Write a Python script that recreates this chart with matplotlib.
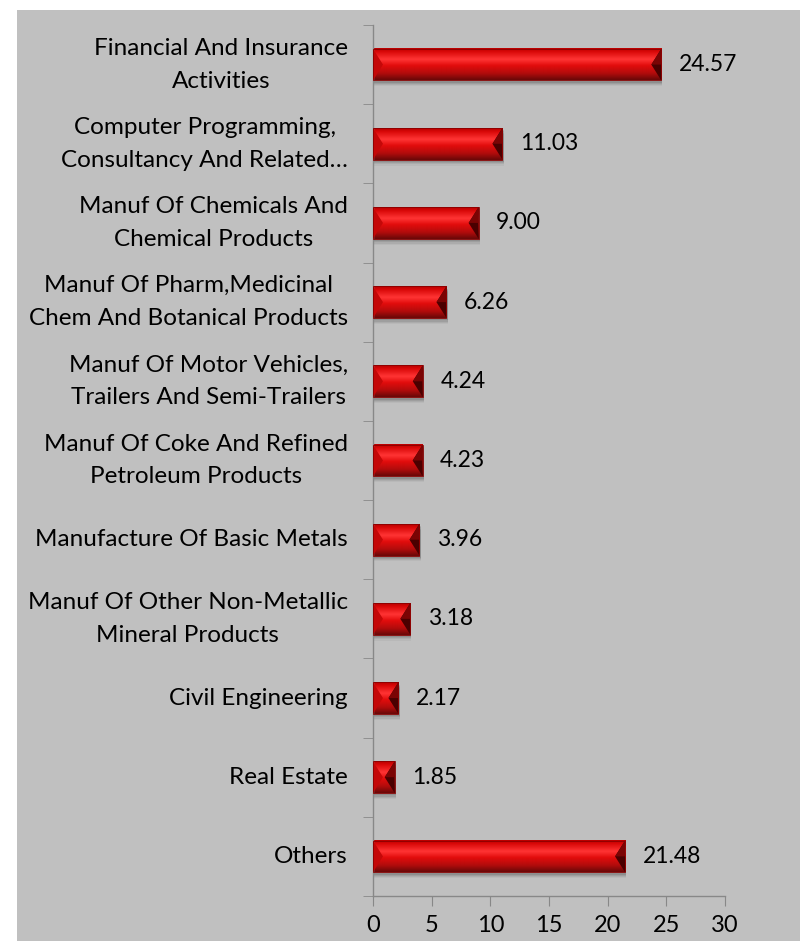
import matplotlib.pyplot as plt
import numpy as np
from matplotlib.patches import Polygon, Rectangle
from matplotlib.colors import LinearSegmentedColormap

plt.rcParams['font.family'] = ['Lato', 'DejaVu Sans']

sectors = [
    "Financial And Insurance\nActivities",
    "Computer Programming,\nConsultancy And Related\u2026",
    "Manuf Of Chemicals And\nChemical Products",
    "Manuf Of Pharm,Medicinal\nChem And Botanical Products",
    "Manuf Of Motor Vehicles,\nTrailers And Semi-Trailers",
    "Manuf Of Coke And Refined\nPetroleum Products",
    "Manufacture Of Basic Metals",
    "Manuf Of Other Non-Metallic\nMineral Products",
    "Civil Engineering",
    "Real Estate",
    "Others",
]
shares = [24.57, 11.03, 9.00, 6.26, 4.24, 4.23, 3.96, 3.18, 2.17, 1.85, 21.48]
xticks = [0, 5, 10, 15, 20, 25, 30]

fig = plt.figure(figsize=(8, 9.41), dpi=100)
fig.patch.set_facecolor("white")
# grey chart area, leaving a thin white strip on top and left
fig.patches.append(Rectangle((17 / 800, 0), 1, 1 - 10 / 941, transform=fig.transFigure,
                             facecolor="#c0c0c0", edgecolor="none", zorder=-10))

ax = fig.add_axes([373 / 800, 45 / 941, 352 / 800, 871 / 941])
ax.set_facecolor("none")

n = len(sectors)
ypos = np.arange(n)
h = 0.40
bevel = 0.85  # horizontal size of the end caps, data units

body = LinearSegmentedColormap.from_list("body", [
    (0.00, "#b80000"), (0.10, "#d80808"), (0.35, "#ff3434"),
    (0.55, "#e20c0c"), (0.80, "#b00c0c"), (1.00, "#6a0808")])
grad = np.linspace(0, 1, 64).reshape(-1, 1)

for y, v in zip(ypos, shares):
    top, bot = y - h / 2, y + h / 2
    # soft drop shadow
    for k, a in enumerate([0.10, 0.08, 0.06, 0.04]):
        ax.add_patch(Rectangle((0.1, top + 0.03 + 0.015 * k), v, h, facecolor="black",
                               alpha=a, edgecolor="none", zorder=1))
    ax.imshow(grad, cmap=body, extent=(0, v, bot, top), aspect="auto",
              interpolation="bilinear", zorder=2)
    b = min(bevel, v / 2)
    ax.add_patch(Polygon([(0, top), (b, y), (0, bot)], closed=True,
                         facecolor="#c40808", edgecolor="none", zorder=3))
    ax.add_patch(Polygon([(v, top), (v - b, y), (v, bot)], closed=True,
                         facecolor="#4a0000", edgecolor="none", zorder=3))
    ax.add_patch(Polygon([(v, top), (v - b, y), (v, y)], closed=True,
                         facecolor="#7a0404", edgecolor="none", zorder=3))
    ax.add_patch(Rectangle((0, top), v, h, facecolor="none", edgecolor="#8a0000",
                           linewidth=0.6, zorder=4))
    ax.text(v + 1.5, y, f"{v:.2f}", va="center", ha="left", fontsize=16.5, color="black")

ax.set_xlim(0, 30)
ax.set_ylim(n - 0.5, -0.5)

ax.set_yticks(ypos)
ax.set_yticklabels(sectors, fontsize=17.5, multialignment="center", linespacing=1.7,
                   va="center")
ax.set_yticks(np.arange(-0.5, n, 1.0), minor=True)
ax.tick_params(axis="y", which="major", length=0, pad=18)
ax.tick_params(axis="y", which="minor", length=7, color="#888888", direction="out")
ax.set_xticks(xticks)
ax.set_xticklabels([str(t) for t in xticks], fontsize=17)
ax.tick_params(axis="x", length=7, color="#888888", direction="out", pad=7)

for side in ["top", "right"]:
    ax.spines[side].set_visible(False)
for side in ["left", "bottom"]:
    ax.spines[side].set_color("#888888")
    ax.spines[side].set_linewidth(1.0)

plt.savefig("out.png", dpi=100)
